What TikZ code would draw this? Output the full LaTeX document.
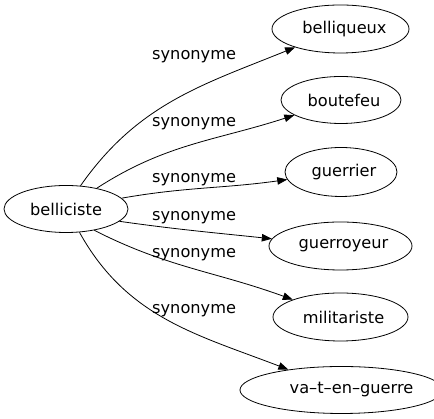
\documentclass[tikz,border=0pt]{standalone}
\usepackage{fontspec}
\setmainfont{DejaVu Sans}
\usetikzlibrary{shapes.geometric,arrows.meta}
\begin{document}
\begin{tikzpicture}[x=1pt,y=1pt,
  every node/.style={font=\fontsize{16.2}{19}\selectfont},
  word/.style={draw,ellipse,inner sep=0pt,line width=0.8pt},
  syn/.style={anchor=base west,inner sep=0pt},
  edge/.style={line width=0.8pt,-{Triangle[length=10pt,width=7.5pt]}}]
\useasboundingbox (0,0) rectangle (434,419);
\node[word,minimum width=124pt,minimum height=47pt] (b) at (66,210) {belliciste};
\node[word,minimum width=137pt,minimum height=48pt] (t1) at (340.5,390) {\hspace*{8pt}belliqueux};
\node[word,minimum width=120pt,minimum height=47pt] (t2) at (341,319) {\hspace*{6pt}boutefeu};
\node[word,minimum width=112pt,minimum height=49pt] (t3) at (341,247) {\hspace*{6pt}guerrier};
\node[word,minimum width=143pt,minimum height=48pt] (t4) at (340.5,173) {\hspace*{6pt}guerroyeur};
\node[word,minimum width=135pt,minimum height=48pt] (t5) at (340.5,102) {\hspace*{6pt}militariste};
\node[word,minimum width=179pt,minimum height=47pt] (t6) at (341.5,29) {\hspace*{20pt}va–t–en–guerre};
\draw[edge] (b.58) to[out=55,in=202] (t1);
\draw[edge] (b.34) to[out=33,in=198] (t2);
\draw[edge] (b.11) to[out=10,in=188] (t3);
\draw[edge] (b.-13) to[out=-8,in=174] (t4);
\draw[edge] (b.-37) to[out=-27,in=160] (t5);
\draw[edge] (b.-60) to[out=-61,in=159] (t6);
\node[syn] (l1) at (152,359) {synonyme};
\node[syn] (l2) at (152,292) {synonyme};
\node[syn] (l3) at (152,236) {synonyme};
\node[syn] (l4) at (152,198) {synonyme};
\node[syn] (l5) at (152,161) {synonyme};
\node[syn] (l6) at (152,105) {synonyme};
\end{tikzpicture}
\end{document}
